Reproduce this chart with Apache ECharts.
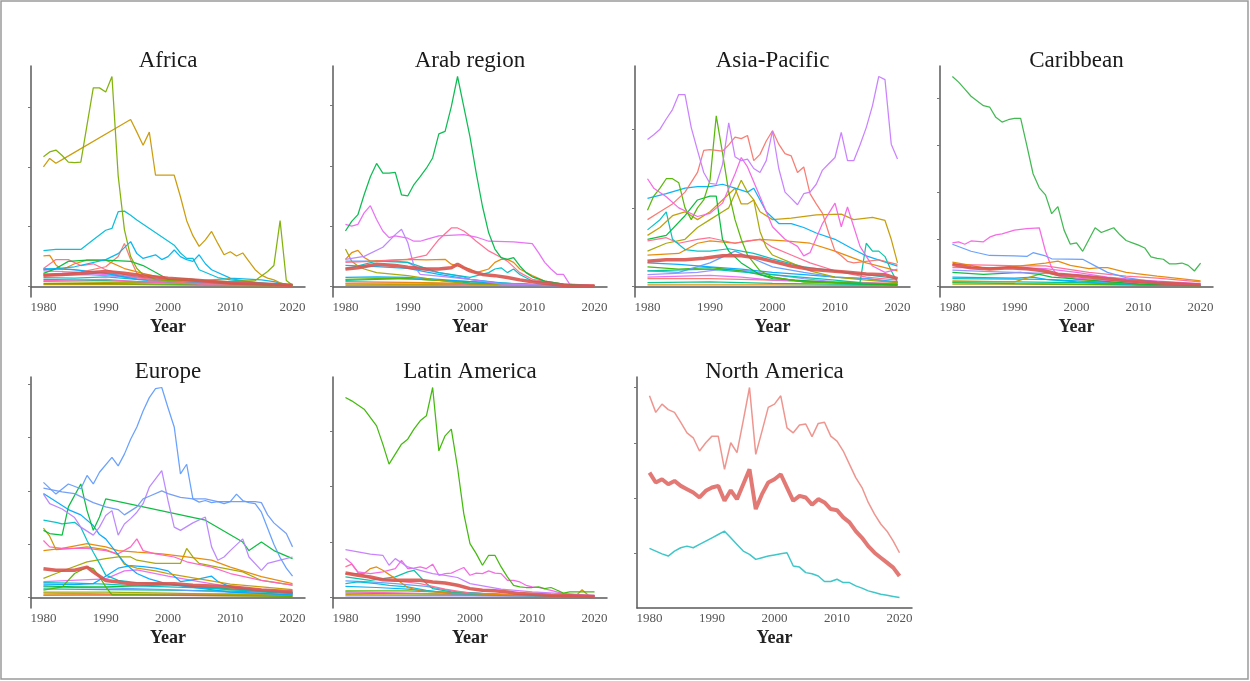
<!DOCTYPE html>
<html>
<head>
<meta charset="utf-8">
<script src="https://cdn.jsdelivr.net/npm/echarts@6/dist/echarts.min.js"></script>
<style>
  html, body { margin: 0; padding: 0; background: #fff; }
  #chart { width: 1250px; height: 681px; }
</style>
</head>
<body>
<div id="chart"></div>
<script>
// ---- Region names and tick labels ----
const regionNames = ['Africa', 'Arab region', 'Asia-Pacific', 'Caribbean', 'Europe', 'Latin America', 'North America'];
const yearTicks = [1980, 1990, 2000, 2010, 2020];
const africaTicks = [0, 1, 2, 3];
const arabTicks = [0, 1, 2, 3];
const asiaTicks = [0, 1, 2];
const caribTicks = [0, 1, 2, 3, 4];
const europeTicks = [0, 1, 2, 3, 4];
const latinTicks = [0, 1, 2, 3];
const northTicks = [1, 2, 3, 4];

// ---- Africa ----
const africaOlive = [[1980,2.17],[1981,2.25],[1982,2.28],[1983,2.19],[1984,2.08],[1985,2.07],[1986,2.08],[1987,2.7],[1988,3.32],[1989,3.32],[1990,3.25],[1991,3.51],[1992,1.85],[1993,0.95],[1994,0.5],[1995,0.3],[1996,0.2],[1998,0.12],[2000,0.1],[2005,0.1],[2010,0.08],[2014,0.1],[2016,0.25],[2017,0.35],[2018,1.1],[2019,0.1],[2020,0.02]];
const africaGold = [[1980,2.0],[1981,2.14],[1982,2.06],[1983,2.12],[1994,2.79],[1995,2.58],[1996,2.36],[1997,2.58],[1998,1.86],[2001,1.86],[2002,1.5],[2003,1.1],[2004,0.85],[2005,0.67],[2006,0.78],[2007,0.92],[2008,0.72],[2009,0.53],[2010,0.58],[2011,0.51],[2012,0.56],[2013,0.42],[2014,0.28],[2015,0.19],[2016,0.14],[2017,0.11],[2018,0.06],[2019,0.03],[2020,0.01]];
const africaCyan = [[1980,0.6],[1982,0.62],[1986,0.62],[1988,0.78],[1990,0.94],[1991,0.97],[1992,1.25],[1993,1.26],[1994,1.19],[1995,1.11],[2001,0.69],[2002,0.56],[2003,0.47],[2004,0.47],[2005,0.28],[2008,0.15],[2010,0.11],[2015,0.06],[2020,0.01]];
const africaBlue = [[1980,0.28],[1985,0.33],[1990,0.45],[1992,0.55],[1994,0.75],[1995,0.55],[1996,0.47],[1997,0.5],[1998,0.53],[1999,0.45],[2000,0.5],[2001,0.61],[2002,0.5],[2003,0.45],[2004,0.42],[2005,0.53],[2006,0.38],[2007,0.28],[2010,0.14],[2015,0.11],[2017,0.08],[2020,0.01]];
const africaGreen = [[1980,0.22],[1982,0.3],[1984,0.42],[1987,0.44],[1990,0.44],[1994,0.42],[1996,0.35],[2000,0.12],[2003,0.13],[2010,0.05],[2020,0.02]];
const africaOrange = [[1980,0.51],[1981,0.52],[1982,0.36],[1983,0.28],[1985,0.38],[1987,0.44],[1990,0.44],[1993,0.3],[1996,0.22],[2000,0.12],[2005,0.1],[2010,0.13],[2015,0.05],[2020,0.02]];
const africaRed = [[1980,0.2],[1985,0.22],[1990,0.33],[1992,0.5],[1993,0.72],[1994,0.45],[1995,0.22],[1997,0.1],[2005,0.05],[2020,0.01]];
const africaPink = [[1980,0.3],[1982,0.45],[1984,0.45],[1986,0.35],[1988,0.38],[1990,0.28],[1995,0.15],[2000,0.1],[2020,0.02]];
const africaLow1 = [[1980,0.3],[1985,0.28],[1990,0.22],[1995,0.12],[2000,0.08],[2010,0.04],[2020,0.02]];
const africaLow2 = [[1980,0.28],[1983,0.3],[1988,0.25],[1993,0.18],[2000,0.1],[2010,0.05],[2020,0.02]];
const africaLow3 = [[1980,0.26],[1985,0.24],[1990,0.2],[1995,0.15],[2005,0.08],[2020,0.03]];
const africaLow4 = [[1980,0.15],[1985,0.14],[1990,0.16],[1995,0.12],[2000,0.1],[2010,0.06],[2020,0.03]];
const africaLow5 = [[1980,0.12],[1990,0.1],[2000,0.07],[2010,0.05],[2020,0.02]];
const africaLow6 = [[1980,0.08],[1990,0.07],[2000,0.06],[2010,0.04],[2020,0.02]];
const africaLow7 = [[1980,0.05],[1990,0.05],[2000,0.04],[2010,0.03],[2020,0.01]];
const africaLow8 = [[1980,0.03],[1995,0.03],[2005,0.02],[2020,0.01]];
const africaLow9 = [[1980,0.18],[1987,0.2],[1992,0.17],[1998,0.09],[2005,0.05],[2020,0.02]];
const africaLow10 = [[1980,0.1],[1990,0.12],[1995,0.08],[2005,0.04],[2020,0.01]];
const africaAverage = [[1980,0.19],[1983,0.2],[1986,0.22],[1990,0.25],[1993,0.22],[1996,0.18],[2000,0.14],[2005,0.1],[2010,0.06],[2015,0.04],[2020,0.02]];

// ---- Arab region ----
const arabGreen = [[1980,0.92],[1981,1.08],[1982,1.19],[1983,1.52],[1984,1.82],[1985,2.04],[1986,1.88],[1987,1.88],[1988,1.89],[1989,1.52],[1990,1.5],[1991,1.69],[1992,1.82],[1993,1.96],[1994,2.13],[1995,2.53],[1996,2.57],[1997,2.98],[1998,3.48],[1999,2.98],[2000,2.48],[2001,1.88],[2002,1.33],[2003,0.89],[2004,0.62],[2005,0.48],[2006,0.45],[2007,0.48],[2008,0.34],[2009,0.23],[2010,0.16],[2012,0.09],[2015,0.04],[2020,0.01]];
const arabMagenta = [[1980,1.03],[1981,1.0],[1982,1.03],[1983,1.22],[1984,1.34],[1985,1.11],[1986,0.92],[1987,0.81],[1988,0.84],[1990,0.8],[1991,0.75],[1992,0.75],[1993,0.78],[1995,0.84],[1999,0.86],[2001,0.82],[2003,0.75],[2007,0.74],[2010,0.71],[2011,0.56],[2012,0.4],[2013,0.29],[2014,0.2],[2015,0.2],[2016,0.04],[2020,0.02]];
const arabViolet = [[1980,0.45],[1983,0.5],[1986,0.65],[1988,0.86],[1989,0.95],[1990,0.73],[1991,0.34],[1992,0.2],[1995,0.17],[2000,0.12],[2005,0.04],[2020,0.01]];
const arabPink = [[1980,0.4],[1985,0.42],[1990,0.45],[1993,0.52],[1995,0.78],[1997,0.97],[1998,0.97],[1999,0.92],[2000,0.84],[2001,0.75],[2002,0.67],[2003,0.59],[2005,0.48],[2006,0.42],[2008,0.23],[2010,0.12],[2015,0.04],[2020,0.01]];
const arabOlive = [[1980,0.62],[1981,0.42],[1982,0.34],[1983,0.29],[1985,0.23],[1990,0.18],[1995,0.1],[2000,0.04],[2020,0.01]];
const arabOrange = [[1980,0.45],[1981,0.56],[1982,0.6],[1983,0.48],[1984,0.42],[1990,0.45],[1993,0.44],[1996,0.45],[1997,0.37],[1998,0.34],[2000,0.29],[2001,0.23],[2002,0.26],[2003,0.29],[2004,0.4],[2005,0.45],[2006,0.45],[2007,0.4],[2008,0.29],[2010,0.18],[2012,0.09],[2015,0.04],[2020,0.02]];
const arabCyan = [[1980,0.29],[1985,0.42],[1990,0.4],[1995,0.23],[2000,0.15],[2003,0.23],[2004,0.29],[2005,0.31],[2006,0.23],[2007,0.29],[2008,0.2],[2010,0.09],[2015,0.03],[2020,0.01]];
const arabBlue = [[1980,0.42],[1985,0.42],[1988,0.42],[1990,0.4],[1992,0.29],[1995,0.23],[1999,0.16],[2000,0.12],[2005,0.05],[2020,0.01]];
const arabLow1 = [[1980,0.35],[1985,0.33],[1990,0.3],[1995,0.2],[2000,0.12],[2005,0.06],[2010,0.03],[2020,0.01]];
const arabLow2 = [[1980,0.1],[1985,0.12],[1990,0.13],[1995,0.1],[2000,0.06],[2010,0.03],[2020,0.01]];
const arabLow3 = [[1980,0.12],[1988,0.14],[1995,0.1],[2000,0.08],[2010,0.03],[2020,0.01]];
const arabLow4 = [[1980,0.05],[1990,0.06],[2000,0.04],[2020,0.01]];
const arabLow5 = [[1980,0.02],[2000,0.02],[2020,0.01]];
const arabLow6 = [[1980,0.08],[1990,0.07],[2000,0.05],[2020,0.01]];
const arabLow7 = [[1980,0.15],[1985,0.16],[1990,0.15],[1995,0.12],[2000,0.08],[2010,0.03],[2020,0.01]];
const arabLow8 = [[1980,0.04],[1995,0.03],[2005,0.04],[2020,0.01]];
const arabAverage = [[1980,0.29],[1982,0.31],[1985,0.37],[1988,0.35],[1990,0.32],[1993,0.29],[1995,0.29],[1997,0.31],[1998,0.37],[1999,0.31],[2000,0.26],[2002,0.2],[2004,0.18],[2006,0.15],[2008,0.11],[2010,0.08],[2013,0.04],[2016,0.01],[2020,0.01]];

// ---- Asia-Pacific ----
const asiaLavender = [[1980,1.87],[1981,1.93],[1982,2.0],[1983,2.13],[1984,2.25],[1985,2.44],[1986,2.44],[1987,2.02],[1988,1.73],[1989,1.45],[1990,1.31],[1991,1.3],[1992,1.55],[1993,2.08],[1994,1.65],[1995,1.6],[1996,1.62],[1997,1.5],[1998,1.45],[1999,1.6],[2000,1.98],[2001,1.5],[2002,1.2],[2003,1.12],[2004,1.04],[2005,1.18],[2006,1.2],[2007,1.3],[2008,1.48],[2009,1.56],[2010,1.64],[2011,1.96],[2012,1.6],[2013,1.6],[2014,1.8],[2015,2.02],[2016,2.3],[2017,2.67],[2018,2.63],[2019,1.81],[2020,1.62]];
const asiaRed = [[1980,0.85],[1982,0.95],[1984,1.05],[1986,1.2],[1988,1.45],[1989,1.73],[1990,1.74],[1992,1.72],[1993,1.8],[1994,1.9],[1995,1.88],[1996,1.92],[1997,1.6],[1998,1.68],[1999,1.85],[2000,1.98],[2001,1.81],[2002,1.69],[2003,1.66],[2004,1.45],[2005,1.52],[2006,1.18],[2007,1.05],[2008,0.93],[2009,0.68],[2010,0.45],[2011,0.39],[2012,0.32],[2013,0.3],[2015,0.32],[2017,0.34],[2019,0.3],[2020,0.28]];
const asiaMagenta = [[1980,1.37],[1981,1.25],[1983,1.14],[1985,1.0],[1988,0.89],[1990,0.93],[1992,1.06],[1994,1.43],[1995,1.64],[1996,1.52],[1998,1.14],[2000,0.76],[2002,0.6],[2004,0.51],[2005,0.39],[2006,0.43],[2008,0.8],[2010,1.06],[2011,0.76],[2012,1.01],[2013,0.76],[2014,0.51],[2016,0.26],[2018,0.18],[2020,0.22]];
const asiaGreen = [[1980,0.97],[1981,1.15],[1982,1.25],[1983,1.37],[1984,1.37],[1985,1.32],[1986,1.0],[1987,0.85],[1988,1.0],[1989,1.1],[1990,1.35],[1991,2.17],[1992,1.7],[1993,1.2],[1994,0.85],[1995,0.6],[1996,0.4],[1998,0.2],[2000,0.12],[2005,0.06],[2020,0.03]];
const asiaGreen2 = [[1980,0.6],[1983,0.65],[1986,0.9],[1988,1.1],[1990,1.15],[1991,1.15],[1992,0.6],[1993,0.45],[1995,0.3],[1998,0.15],[2000,0.1],[2010,0.05],[2020,0.02]];
const asiaYellow = [[1980,0.65],[1982,0.75],[1984,0.9],[1986,0.95],[1988,0.85],[1990,0.95],[1992,1.1],[1994,1.25],[1995,1.05],[1996,1.05],[1997,1.1],[1998,0.95],[2000,0.85],[2003,0.87],[2007,0.91],[2011,0.92],[2013,0.85],[2016,0.88],[2018,0.84],[2019,0.6],[2020,0.3]];
const asiaOlive = [[1980,0.45],[1983,0.55],[1986,0.6],[1988,0.75],[1990,0.85],[1992,0.95],[1993,1.0],[1995,1.35],[1996,1.2],[1997,1.1],[1998,0.7],[1999,0.5],[2000,0.4],[2003,0.3],[2006,0.2],[2010,0.12],[2015,0.08],[2020,0.05]];
const asiaBlue = [[1980,1.12],[1983,1.18],[1986,1.25],[1988,1.27],[1990,1.27],[1992,1.3],[1994,1.25],[1996,1.2],[1997,1.25],[1998,1.1],[1999,0.95],[2001,0.8],[2003,0.8],[2005,0.75],[2007,0.68],[2010,0.6],[2013,0.47],[2015,0.39],[2020,0.26]];
const asiaTeal = [[1980,0.72],[1982,0.85],[1983,0.95],[1984,0.6],[1986,0.47],[1988,0.45],[1990,0.45],[1993,0.48],[1995,0.45],[1997,0.42],[2000,0.35],[2005,0.25],[2010,0.2],[2015,0.15],[2020,0.1]];
const asiaTeal2 = [[1980,0.2],[1990,0.22],[2000,0.15],[2010,0.08],[2014,0.05],[2015,0.55],[2016,0.45],[2017,0.45],[2018,0.38],[2019,0.2],[2020,0.05]];
const asiaPink = [[1980,0.58],[1983,0.62],[1985,0.55],[1988,0.6],[1990,0.62],[1994,0.55],[1996,0.58],[1998,0.6],[2000,0.5],[2003,0.4],[2006,0.3],[2010,0.2],[2015,0.12],[2020,0.08]];
const asiaOrange = [[1980,0.4],[1985,0.42],[1988,0.55],[1990,0.58],[1994,0.55],[1998,0.6],[2002,0.58],[2006,0.55],[2010,0.45],[2015,0.3],[2020,0.2]];
const asiaSky = [[1980,0.2],[1985,0.18],[1990,0.3],[1994,0.45],[1997,0.35],[2000,0.25],[2005,0.18],[2010,0.12],[2015,0.1],[2020,0.05]];
const asiaLow1 = [[1980,0.25],[1985,0.22],[1990,0.24],[1995,0.2],[2000,0.12],[2005,0.06],[2020,0.02]];
const asiaLow2 = [[1980,0.3],[1985,0.28],[1990,0.25],[1995,0.22],[2000,0.18],[2005,0.15],[2010,0.12],[2015,0.1],[2020,0.06]];
const asiaLow3 = [[1980,0.15],[1988,0.18],[1992,0.22],[1996,0.2],[2000,0.15],[2005,0.1],[2010,0.06],[2020,0.03]];
const asiaLow4 = [[1980,0.12],[1990,0.14],[1995,0.12],[2000,0.08],[2010,0.05],[2020,0.03]];
const asiaLow5 = [[1980,0.1],[1990,0.1],[2000,0.08],[2010,0.06],[2020,0.04]];
const asiaLow6 = [[1980,0.05],[1990,0.06],[2000,0.04],[2020,0.02]];
const asiaLow7 = [[1980,0.02],[2000,0.02],[2020,0.01]];
const asiaAverage = [[1980,0.32],[1983,0.34],[1986,0.34],[1989,0.36],[1992,0.39],[1995,0.39],[1998,0.36],[2000,0.32],[2003,0.26],[2006,0.22],[2009,0.2],[2012,0.18],[2015,0.16],[2018,0.15],[2020,0.1]];

// ---- Caribbean ----
const caribGreen = [[1980,4.47],[1981,4.35],[1982,4.2],[1983,4.05],[1984,3.95],[1985,3.85],[1986,3.82],[1987,3.6],[1988,3.5],[1989,3.55],[1990,3.58],[1991,3.58],[1992,3.0],[1993,2.4],[1994,2.1],[1995,1.95],[1996,1.55],[1997,1.7],[1998,1.2],[1999,0.9],[2000,0.93],[2001,0.75],[2002,1.0],[2003,1.25],[2004,1.15],[2005,1.2],[2006,1.25],[2007,1.1],[2008,0.98],[2009,0.93],[2010,0.88],[2011,0.82],[2012,0.63],[2013,0.6],[2014,0.58],[2015,0.48],[2016,0.48],[2017,0.5],[2018,0.45],[2019,0.33],[2020,0.5]];
const caribPink = [[1980,0.93],[1981,0.95],[1982,0.9],[1983,0.97],[1985,0.95],[1986,1.05],[1987,1.1],[1988,1.12],[1990,1.2],[1992,1.23],[1994,1.25],[1995,0.75],[1996,0.4],[1997,0.23],[2000,0.18],[2010,0.08],[2020,0.03]];
const caribBlue = [[1980,0.9],[1983,0.75],[1986,0.66],[1990,0.65],[1992,0.64],[1993,0.72],[1995,0.65],[1996,0.59],[2001,0.58],[2003,0.44],[2005,0.3],[2008,0.19],[2013,0.09],[2020,0.05]];
const caribOrange = [[1980,0.52],[1983,0.45],[1986,0.37],[1991,0.44],[1995,0.5],[1997,0.54],[1999,0.45],[2002,0.38],[2004,0.4],[2005,0.4],[2008,0.3],[2013,0.22],[2020,0.12]];
const caribRose = [[1980,0.47],[1991,0.44],[1995,0.44],[1998,0.38],[2002,0.3],[2008,0.22],[2013,0.18],[2020,0.1]];
const caribViolet = [[1980,0.35],[1985,0.32],[1990,0.3],[1995,0.28],[2000,0.25],[2005,0.18],[2010,0.1],[2020,0.04]];
const caribMagenta = [[1980,0.4],[1990,0.4],[1995,0.38],[2000,0.3],[2005,0.2],[2010,0.14],[2015,0.1],[2020,0.06]];
const caribTeal = [[1980,0.3],[1985,0.26],[1991,0.3],[1994,0.26],[1996,0.2],[2001,0.15],[2010,0.05],[2020,0.02]];
const caribGold = [[1980,0.12],[1990,0.1],[1995,0.3],[1998,0.2],[2000,0.15],[2010,0.05],[2020,0.02]];
const caribLow1 = [[1980,0.2],[1990,0.18],[1993,0.2],[1995,0.15],[2000,0.12],[2010,0.06],[2020,0.02]];
const caribLow2 = [[1980,0.17],[1995,0.15],[2000,0.1],[2010,0.04],[2020,0.02]];
const caribLow3 = [[1980,0.08],[1990,0.06],[2000,0.05],[2020,0.02]];
const caribLow4 = [[1980,0.05],[1990,0.05],[2000,0.04],[2020,0.02]];
const caribLow5 = [[1980,0.1],[1990,0.1],[2000,0.08],[2010,0.04],[2020,0.02]];
const caribAverage = [[1980,0.47],[1983,0.4],[1986,0.37],[1989,0.4],[1992,0.38],[1995,0.33],[1997,0.26],[2000,0.23],[2003,0.19],[2008,0.12],[2013,0.08],[2020,0.03]];

// ---- Europe ----
const europeBlue = [[1980,2.16],[1982,1.94],[1984,2.13],[1986,2.04],[1987,2.29],[1988,2.13],[1989,2.35],[1991,2.63],[1992,2.47],[1993,2.69],[1994,2.97],[1995,3.2],[1996,3.5],[1997,3.75],[1998,3.92],[1999,3.94],[2000,3.56],[2001,3.2],[2002,2.32],[2003,2.5],[2004,1.85],[2005,1.79],[2006,1.82],[2007,1.78],[2008,1.8],[2009,1.76],[2010,1.8],[2011,1.94],[2012,1.82],[2013,1.78],[2014,1.76],[2015,1.6],[2016,1.3],[2017,1.0],[2018,0.75],[2019,0.55],[2020,0.4]];
const europeBlue2 = [[1980,2.05],[1983,1.98],[1985,1.95],[1988,1.78],[1990,1.7],[1992,1.65],[1993,1.55],[1995,1.7],[1996,1.85],[1997,1.9],[1999,2.0],[2000,1.95],[2002,1.88],[2004,1.85],[2006,1.85],[2008,1.8],[2010,1.8],[2012,1.8],[2014,1.8],[2015,1.78],[2016,1.55],[2017,1.4],[2018,1.3],[2019,1.2],[2020,0.95]];
const europeBlue3 = [[1980,1.95],[1982,1.8],[1984,1.65],[1986,1.55],[1988,1.35],[1989,1.18],[1990,1.1],[1991,0.95],[1992,0.8],[1993,0.65],[1994,0.55],[1995,0.45],[1997,0.35],[2000,0.25],[2010,0.1],[2020,0.05]];
const europePurple = [[1980,1.94],[1981,1.76],[1983,1.66],[1985,1.5],[1986,1.32],[1988,1.17],[1989,1.32],[1990,1.54],[1991,1.63],[1992,1.17],[1993,1.38],[1994,1.48],[1995,1.6],[1996,1.76],[1997,2.07],[1999,2.38],[2000,1.82],[2001,1.32],[2002,1.26],[2004,1.4],[2006,1.51],[2007,0.95],[2008,0.7],[2009,0.76],[2010,0.88],[2012,1.1],[2013,0.76],[2015,0.51],[2016,0.64],[2018,0.7],[2020,0.76]];
const europeGreen = [[1980,1.26],[1981,1.2],[1983,1.17],[1984,1.7],[1986,2.13],[1987,1.63],[1988,1.26],[1989,1.51],[1990,1.85],[2006,1.45],[2012,1.04],[2013,0.88],[2015,1.04],[2017,0.88],[2020,0.73]];
const europeCyan = [[1980,1.45],[1982,1.41],[1983,1.38],[1985,1.41],[1986,1.32],[1987,1.07],[1988,0.85],[1989,0.64],[1990,0.42],[1992,0.32],[1995,0.28],[2000,0.25],[2010,0.15],[2020,0.08]];
const europePink = [[1980,1.07],[1981,0.95],[1983,0.92],[1987,0.92],[1990,0.88],[1992,0.82],[1994,0.95],[1995,1.1],[1996,0.88],[1998,0.82],[2001,0.76],[2003,0.67],[2007,0.57],[2010,0.45],[2015,0.32],[2020,0.23]];
const europeOrange = [[1980,0.88],[1983,0.92],[1987,1.01],[1990,0.95],[1992,0.88],[1995,0.85],[1999,0.82],[2003,0.76],[2007,0.7],[2010,0.57],[2015,0.39],[2020,0.26]];
const europeGold = [[1980,1.3],[1981,1.15],[1982,0.9],[1985,0.92],[1987,0.95],[1990,0.9],[1992,0.8],[1993,0.62],[1995,0.55],[1998,0.5],[2000,0.45],[2005,0.35],[2010,0.25],[2020,0.15]];
const europeYellow = [[1980,0.36],[1982,0.45],[1984,0.54],[1987,0.67],[1990,0.73],[1992,0.76],[1994,0.76],[1995,0.7],[1998,0.64],[2002,0.64],[2003,0.92],[2004,0.76],[2005,0.64],[2008,0.57],[2012,0.48],[2015,0.32],[2020,0.23]];
const europeGreen2 = [[1980,0.14],[1983,0.2],[1985,0.45],[1987,0.57],[1988,0.54],[1989,0.39],[1990,0.2],[1991,0.05],[1995,0.05],[2020,0.02]];
const europeSky = [[1980,0.25],[1985,0.24],[1988,0.26],[1990,0.4],[1992,0.55],[1994,0.6],[1996,0.58],[1998,0.55],[2000,0.5],[2002,0.3],[2005,0.35],[2007,0.4],[2008,0.3],[2010,0.2],[2015,0.12],[2020,0.08]];
const europeOrchid = [[1980,0.3],[1990,0.35],[1993,0.5],[1995,0.52],[1998,0.45],[2000,0.4],[2005,0.3],[2010,0.2],[2020,0.1]];
const europeLow1 = [[1980,0.28],[1985,0.27],[1990,0.25],[1995,0.22],[2000,0.2],[2005,0.18],[2010,0.15],[2015,0.12],[2020,0.1]];
const europeLow2 = [[1980,0.22],[1985,0.2],[1990,0.2],[1995,0.22],[2000,0.24],[2005,0.2],[2010,0.16],[2015,0.12],[2020,0.08]];
const europeLow3 = [[1980,0.2],[1990,0.18],[2000,0.15],[2010,0.1],[2020,0.06]];
const europeLow4 = [[1980,0.16],[1990,0.15],[2000,0.14],[2010,0.12],[2020,0.08]];
const europeLow5 = [[1980,0.05],[1990,0.05],[2000,0.06],[2010,0.07],[2020,0.06]];
const europeLow6 = [[1980,0.04],[1990,0.05],[2000,0.04],[2010,0.03],[2020,0.02]];
const europeLow7 = [[1980,0.1],[1990,0.1],[2000,0.08],[2010,0.06],[2020,0.04]];
const europeLow8 = [[1980,0.08],[1990,0.07],[2000,0.06],[2010,0.05],[2020,0.04]];
const europeAverage = [[1980,0.54],[1982,0.51],[1985,0.51],[1987,0.57],[1988,0.48],[1990,0.32],[1992,0.29],[1994,0.26],[1997,0.26],[2001,0.26],[2004,0.23],[2010,0.2],[2015,0.14],[2020,0.11]];

// ---- Latin America ----
const latinGreen = [[1980,3.6],[1981,3.54],[1983,3.39],[1985,3.09],[1986,2.76],[1987,2.4],[1988,2.58],[1989,2.76],[1990,2.85],[1991,3.03],[1992,3.18],[1993,3.27],[1994,3.78],[1995,2.64],[1996,2.91],[1997,3.03],[1998,2.34],[1999,1.51],[2000,0.97],[2001,0.79],[2002,0.58],[2003,0.76],[2004,0.76],[2005,0.55],[2006,0.37],[2007,0.22],[2008,0.19],[2009,0.18],[2010,0.18],[2011,0.19],[2012,0.16],[2013,0.18],[2014,0.13],[2015,0.08],[2016,0.1],[2020,0.1]];
const latinPurple = [[1980,0.86],[1982,0.82],[1984,0.78],[1986,0.76],[1987,0.58],[1988,0.7],[1990,0.55],[1991,0.52],[1992,0.49],[1994,0.43],[1996,0.4],[1998,0.36],[2000,0.25],[2005,0.15],[2010,0.1],[2020,0.04]];
const latinMagenta = [[1980,0.7],[1981,0.61],[1982,0.46],[1984,0.43],[1986,0.46],[1988,0.52],[1989,0.67],[1990,0.52],[1991,0.53],[1992,0.55],[1993,0.52],[1994,0.6],[1995,0.4],[1996,0.43],[1997,0.44],[1998,0.49],[1999,0.54],[2000,0.4],[2001,0.44],[2002,0.43],[2003,0.48],[2004,0.44],[2005,0.43],[2006,0.31],[2007,0.31],[2008,0.28],[2009,0.22],[2010,0.19],[2011,0.18],[2013,0.13],[2015,0.07],[2020,0.02]];
const latinOrange = [[1980,0.43],[1983,0.43],[1984,0.52],[1985,0.55],[1986,0.49],[1988,0.34],[1990,0.18],[1992,0.12],[1997,0.08],[2005,0.05],[2020,0.02]];
const latinTeal = [[1980,0.37],[1984,0.31],[1988,0.37],[1990,0.46],[1991,0.49],[1992,0.37],[1993,0.25],[1994,0.16],[1997,0.1],[2005,0.05],[2020,0.02]];
const latinCyan = [[1980,0.25],[1982,0.28],[1985,0.25],[1987,0.22],[1990,0.19],[1993,0.13],[1997,0.07],[2005,0.04],[2020,0.02]];
const latinRose = [[1980,0.55],[1981,0.6],[1982,0.45],[1984,0.35],[1988,0.3],[1992,0.25],[1996,0.15],[2000,0.08],[2010,0.04],[2020,0.02]];
const latinLow1 = [[1980,0.2],[1985,0.18],[1990,0.15],[1995,0.1],[2000,0.07],[2010,0.04],[2020,0.02]];
const latinLow2 = [[1980,0.12],[1990,0.12],[2000,0.08],[2010,0.04],[2020,0.02]];
const latinLow3 = [[1980,0.05],[2000,0.04],[2017,0.03],[2018,0.14],[2019,0.04],[2020,0.03]];
const latinLow4 = [[1980,0.3],[1984,0.28],[1988,0.25],[1993,0.2],[1998,0.1],[2005,0.05],[2020,0.02]];
const latinLow5 = [[1980,0.08],[1990,0.07],[2000,0.05],[2020,0.02]];
const latinLow6 = [[1980,0.1],[1990,0.08],[2000,0.05],[2020,0.02]];
const latinLow7 = [[1980,0.03],[2000,0.03],[2020,0.01]];
const latinAverage = [[1980,0.44],[1982,0.4],[1984,0.37],[1986,0.32],[1988,0.31],[1992,0.31],[1994,0.28],[1996,0.26],[1998,0.22],[2000,0.16],[2002,0.13],[2004,0.12],[2006,0.1],[2008,0.07],[2013,0.04],[2020,0.02]];

// ---- North America ----
const northPink = [[1980,3.85],[1981,3.55],[1982,3.7],[1983,3.6],[1984,3.55],[1985,3.37],[1986,3.18],[1987,3.09],[1988,2.85],[1989,3.0],[1990,3.12],[1991,3.12],[1992,2.52],[1993,3.0],[1994,2.82],[1995,3.4],[1996,4.0],[1997,2.79],[1998,3.21],[1999,3.64],[2000,3.7],[2001,3.85],[2002,3.27],[2003,3.18],[2004,3.32],[2005,3.34],[2006,3.11],[2007,3.35],[2008,3.37],[2009,3.12],[2010,3.03],[2011,2.85],[2012,2.61],[2013,2.37],[2014,2.19],[2015,1.92],[2016,1.71],[2017,1.53],[2018,1.4],[2019,1.22],[2020,1.01]];
const northCyan = [[1980,1.09],[1981,1.04],[1982,0.99],[1983,0.95],[1984,1.04],[1985,1.1],[1986,1.13],[1987,1.1],[1988,1.16],[1989,1.22],[1990,1.28],[1991,1.34],[1992,1.4],[1993,1.28],[1994,1.16],[1995,1.04],[1996,0.98],[1997,0.89],[1998,0.92],[1999,0.95],[2000,0.97],[2001,0.99],[2002,1.01],[2003,0.77],[2004,0.75],[2005,0.65],[2006,0.63],[2007,0.59],[2008,0.49],[2009,0.49],[2010,0.53],[2011,0.47],[2012,0.47],[2013,0.41],[2014,0.37],[2015,0.32],[2016,0.29],[2017,0.26],[2018,0.24],[2019,0.22],[2020,0.2]];
const northAverage = [[1980,2.46],[1981,2.28],[1982,2.34],[1983,2.25],[1984,2.31],[1985,2.22],[1986,2.16],[1987,2.1],[1988,2.01],[1989,2.13],[1990,2.19],[1991,2.22],[1992,1.95],[1993,2.14],[1994,1.98],[1995,2.25],[1996,2.52],[1997,1.8],[1998,2.07],[1999,2.28],[2000,2.34],[2001,2.43],[2002,2.19],[2003,1.95],[2004,2.04],[2005,2.01],[2006,1.88],[2007,1.98],[2008,1.92],[2009,1.8],[2010,1.78],[2011,1.65],[2012,1.56],[2013,1.4],[2014,1.28],[2015,1.13],[2016,1.01],[2017,0.92],[2018,0.83],[2019,0.74],[2020,0.59]];

// ---- Line colours per region (thin country lines) ----
const africaLines = [
  [africaLow8,'#D89000'],[africaLow7,'#39B600'],[africaLow6,'#A3A500'],[africaLow5,'#00C08B'],[africaLow10,'#FF62BC'],
  [africaLow4,'#00BFC4'],[africaLow9,'#9590FF'],[africaLow3,'#E76BF3'],[africaLow2,'#619CFF'],[africaLow1,'#00B0F6'],
  [africaPink,'#FF6C91'],[africaRed,'#F8766D'],[africaOrange,'#E58700'],[africaGreen,'#00BA38'],
  [africaBlue,'#00B4EF'],[africaCyan,'#00BCD8'],[africaGold,'#C99800'],[africaOlive,'#7CAE00']
];
const arabLines = [
  [arabLow5,'#9590FF'],[arabLow8,'#C49A00'],[arabLow4,'#FF61C3'],[arabLow6,'#E58700'],[arabLow2,'#00C08B'],
  [arabLow3,'#53B400'],[arabLow7,'#00A9FF'],[arabLow1,'#00B0F6'],[arabBlue,'#619CFF'],[arabCyan,'#00BFC4'],
  [arabOlive,'#A3A500'],[arabOrange,'#E58700'],[arabViolet,'#B983FF'],[arabPink,'#FF6C91'],
  [arabMagenta,'#E76BF3'],[arabGreen,'#00B84A']
];
const asiaLines = [
  [asiaLow7,'#D89000'],[asiaLow6,'#00C08B'],[asiaLow5,'#F8766D'],[asiaLow4,'#E76BF3'],[asiaLow3,'#9590FF'],
  [asiaLow2,'#00A9FF'],[asiaLow1,'#39B600'],[asiaSky,'#619CFF'],[asiaTeal2,'#00C1A3'],[asiaOrange,'#E58700'],
  [asiaPink,'#FF6C91'],[asiaTeal,'#00BFC4'],[asiaOlive,'#A3A500'],[asiaYellow,'#C49A00'],[asiaBlue,'#00B0F6'],
  [asiaGreen2,'#00BA38'],[asiaGreen,'#53B400'],[asiaMagenta,'#F564E3'],[asiaRed,'#F8766D'],[asiaLavender,'#C77CFF']
];
const caribLines = [
  [caribLow4,'#A3A500'],[caribLow3,'#53B400'],[caribLow5,'#00C08B'],[caribLow2,'#00BFC4'],[caribLow1,'#00A9FF'],
  [caribGold,'#C49A00'],[caribTeal,'#00BA38'],[caribViolet,'#9590FF'],[caribMagenta,'#E76BF3'],[caribRose,'#FF6C91'],
  [caribOrange,'#E58700'],[caribBlue,'#619CFF'],[caribPink,'#F564E3'],[caribGreen,'#39B54A']
];
const europeLines = [
  [europeLow6,'#FF6C91'],[europeLow5,'#D89000'],[europeLow8,'#F8766D'],[europeLow7,'#A3A500'],[europeLow4,'#00C08B'],
  [europeLow3,'#619CFF'],[europeLow2,'#00BA38'],[europeLow1,'#00BFC4'],[europeOrchid,'#E76BF3'],[europeSky,'#00A9FF'],
  [europeGreen2,'#53B400'],[europeYellow,'#A3A500'],[europeGold,'#C49A00'],[europeOrange,'#E58700'],[europePink,'#FF61C3'],
  [europeCyan,'#00BFC4'],[europeBlue3,'#00A9FF'],[europeGreen,'#00BA38'],[europePurple,'#B983FF'],[europeBlue2,'#6F9BF5'],[europeBlue,'#619CFF']
];
const latinLines = [
  [latinLow7,'#9590FF'],[latinLow5,'#00C08B'],[latinLow6,'#FF61C3'],[latinLow3,'#C49A00'],[latinLow2,'#53B400'],
  [latinLow1,'#00B0F6'],[latinLow4,'#619CFF'],[latinCyan,'#00BCD8'],[latinTeal,'#00C1A3'],[latinRose,'#FF6C91'],
  [latinOrange,'#E58700'],[latinMagenta,'#F564E3'],[latinPurple,'#C77CFF'],[latinGreen,'#39B600']
];
const northLines = [[northCyan,'#35C3C6'],[northPink,'#EE8F89']];

// ---- Assembly ----
const panelLines = [africaLines, arabLines, asiaLines, caribLines, europeLines, latinLines, northLines];
const panelAverages = [africaAverage, arabAverage, asiaAverage, caribAverage, europeAverage, latinAverage, northAverage];
const panelTicks = [africaTicks, arabTicks, asiaTicks, caribTicks, europeTicks, latinTicks, northTicks];
// plot boxes: [left, top, width, height]
const panelBoxes = [
  [31, 66, 274, 231], [333, 66, 274, 231], [635, 66, 275, 231], [940, 66, 273, 231],
  [31, 377, 274, 231], [333, 377, 274, 231], [637, 377, 275, 231]
];

const grids = [], xAxes = [], yAxes = [], series = [], graphics = [];

graphics.push({
  type: 'rect', shape: { x: 1, y: 1, width: 1247, height: 678 },
  style: { fill: 'none', stroke: '#9a9a9a', lineWidth: 1.5 }, silent: true
});

panelBoxes.forEach((b, i) => {
  const lines = panelLines[i];
  const avg = panelAverages[i];
  let lo = Infinity, hi = -Infinity;
  lines.concat([[avg]]).forEach(l => l[0].forEach(p => { lo = Math.min(lo, p[1]); hi = Math.max(hi, p[1]); }));
  if (i !== 6) lo = 0;
  const pad = (hi - lo) * 0.05;

  grids.push({ left: b[0], top: b[1], width: b[2], height: b[3] });
  xAxes.push({
    gridIndex: i, type: 'value', min: 1978, max: 2022,
    axisLine: { show: true, lineStyle: { color: '#5a5a5a', width: 1.5 } },
    axisTick: { show: false },
    splitLine: { show: false },
    axisLabel: {
      customValues: yearTicks, margin: 4,
      formatter: v => String(v),
      fontFamily: 'Liberation Serif', fontSize: 13, color: '#555'
    },
    name: 'Year', nameLocation: 'middle', nameGap: 21,
    nameTextStyle: { fontFamily: 'Liberation Serif', fontSize: 18, fontWeight: 'bold', color: '#222' }
  });
  yAxes.push({
    gridIndex: i, type: 'value', min: lo - pad, max: hi + pad,
    axisLine: { show: true, lineStyle: { color: '#5a5a5a', width: 1.5 } },
    axisTick: { show: true, customValues: panelTicks[i], length: 3, lineStyle: { color: '#777', width: 1 } },
    axisLabel: { show: false },
    splitLine: { show: false }
  });

  lines.forEach(([data, color]) => {
    series.push({
      type: 'line', xAxisIndex: i, yAxisIndex: i, data: data,
      showSymbol: false, symbol: 'none', silent: true,
      lineStyle: { color: color, width: i === 6 ? 1.5 : 1.25, opacity: 0.95 }
    });
  });
  series.push({
    type: 'line', xAxisIndex: i, yAxisIndex: i, data: avg,
    showSymbol: false, symbol: 'none', silent: true,
    lineStyle: { color: i === 6 ? '#E06A66' : '#D9544F', width: i === 6 ? 4 : 3.5, opacity: 0.9 }
  });

  graphics.push({
    type: 'text', x: b[0] + b[2] / 2, y: b[1] - 5, silent: true,
    style: {
      text: regionNames[i], fontFamily: 'Liberation Serif', fontSize: 23,
      fill: '#1a1a1a', align: 'center', verticalAlign: 'middle'
    }
  });
});

const chart = echarts.init(document.getElementById('chart'), null, { renderer: 'canvas' });
chart.setOption({
  animation: false,
  backgroundColor: '#ffffff',
  grid: grids,
  xAxis: xAxes,
  yAxis: yAxes,
  series: series,
  graphic: graphics
});
</script>
</body>
</html>
